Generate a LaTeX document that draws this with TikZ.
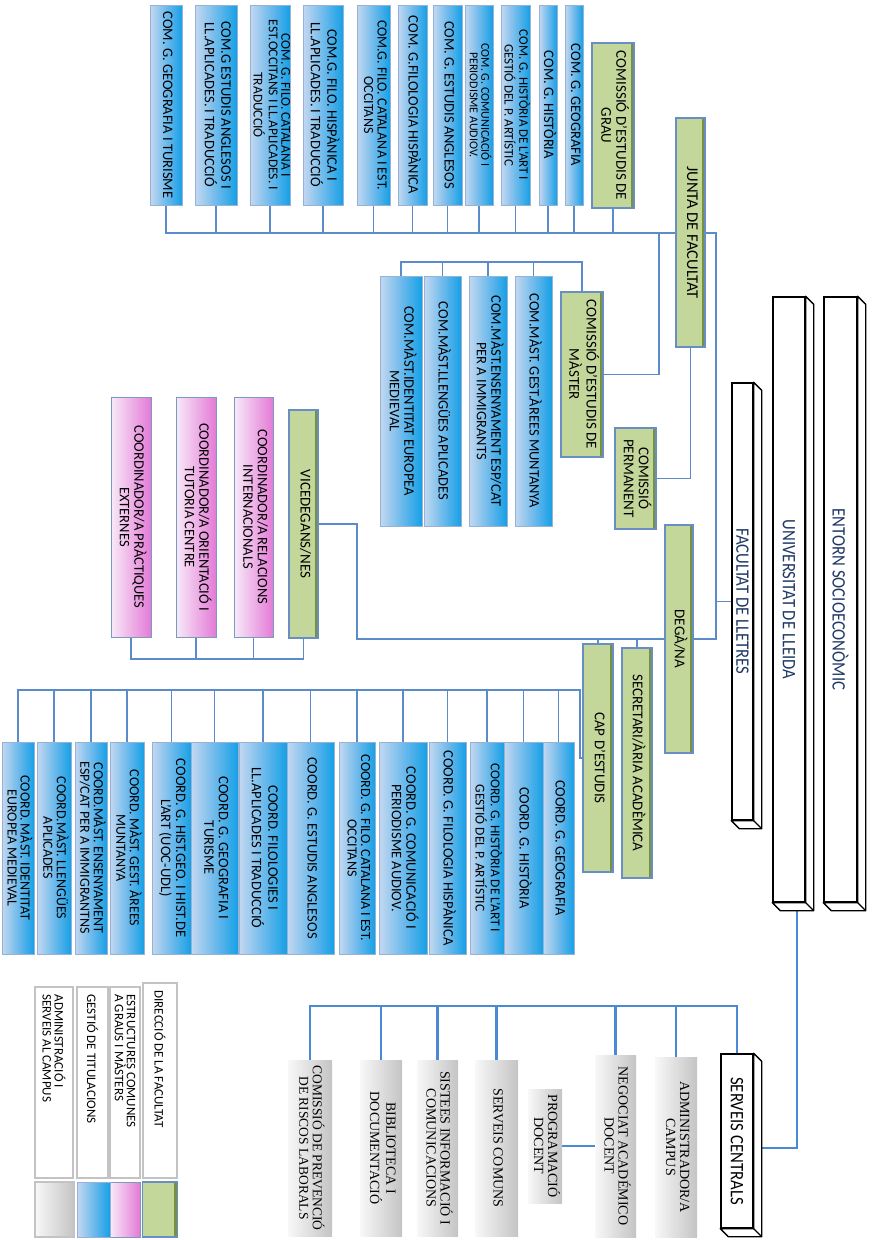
\documentclass[tikz,border=0pt]{standalone}
\usepackage{graphicx}
\usepackage{fontspec}
\setmainfont{Carlito}
\newfontfamily\serfont{Liberation Serif}
\newfontfamily\condfont[FakeStretch=0.88]{Carlito}
\usetikzlibrary{calc, backgrounds}
\definecolor{lnblue}{RGB}{91, 139, 201}
\definecolor{srvblue}{RGB}{74, 138, 212}
\definecolor{blueL}{RGB}{196, 216, 240}
\definecolor{blueM}{RGB}{110, 186, 236}
\definecolor{blueR}{RGB}{22, 160, 230}
\definecolor{bluedraw}{RGB}{150, 178, 214}
\definecolor{grnfill}{RGB}{196, 215, 155}
\definecolor{grnedge}{RGB}{118, 146, 60}
\definecolor{grndraw}{RGB}{104, 142, 196}
\definecolor{pinkL}{RGB}{248, 234, 248}
\definecolor{pinkR}{RGB}{228, 122, 214}
\definecolor{pinkdraw}{RGB}{120, 155, 196}
\definecolor{grayL}{RGB}{248, 248, 248}
\definecolor{grayR}{RGB}{196, 196, 196}
\definecolor{navytext}{RGB}{31, 56, 100}
\definecolor{legdraw}{RGB}{195, 195, 195}

\newcommand{\fsz}[1]{\fontsize{#1}{#1}\selectfont}
\newcommand{\fszb}[2]{\fontsize{#1}{#2}\selectfont}
\newcommand{\vlab}[1]{\rotatebox{-90}{\begin{tabular}{@{}c@{}}#1\end{tabular}}}
\newcommand{\vleft}[2]{\rotatebox{-90}{\parbox{#1}{\raggedright #2}}}

\begin{document}
\begin{tikzpicture}[
    x=1pt, y=-1pt,
    combox/.style={rectangle, draw=bluedraw, line width=0.8pt,
                   left color=blueL, right color=blueR, middle color=blueM,
                   inner sep=0pt, font=\fsz{14.5}},
    grnbox/.style={rectangle, draw=grndraw, line width=1.3pt, fill=grnfill,
                   path picture={\fill[grnedge] ([xshift=-3.5pt]path picture bounding box.north east)
                                 rectangle (path picture bounding box.south east);},
                   inner sep=0pt, font=\fsz{15}},
    pinkbox/.style={rectangle, draw=pinkdraw, line width=1pt,
                    left color=pinkL, right color=pinkR,
                    inner sep=0pt, font=\fsz{14.5}},
    graybox/.style={rectangle, left color=grayL, right color=grayR,
                    inner sep=0pt, font=\serfont\fsz{14}},
    solid3d/.style={rectangle, draw=black, line width=1.4pt, fill=white,
                    inner sep=0pt, text=navytext, font=\condfont\fsz{19}},
    edge3d/.style={draw=black, line width=1.4pt, fill=white, line join=round},
    legbox/.style={rectangle, draw=legdraw, line width=2.2pt, fill=white,
                   inner sep=0pt, font=\fszb{13}{12}},
    conn/.style={draw=lnblue, line width=1.8pt},
    conn2/.style={draw=srvblue, line width=2.8pt},
]
\useasboundingbox (0,0) rectangle (874,1240);

%% ── Context (3D blocks) ─────────────────────────────────────────────────────
\node[solid3d, minimum width=33, minimum height=605] (ent)  at (840.5,599.5) {\rotatebox{-90}{ENTORN SOCIOECONÒMIC}};
\node[solid3d, minimum width=32, minimum height=605] (uni)  at (789,599.5)   {\rotatebox{-90}{UNIVERSITAT DE LLEIDA}};
\node[solid3d, minimum width=21, minimum height=437] (fac)  at (742.5,601.5) {\rotatebox{-90}{FACULTAT DE LLETRES}};
\node[solid3d, minimum width=32, minimum height=174, text=black] (serv) at (737,1141) {\rotatebox{-90}{SERVEIS CENTRALS}};
\foreach \n in {ent,uni,fac,serv} {
  \draw[edge3d] (\n.north east) -- ++(8,8) -- ($(\n.south east)+(8,8)$) -- ($(\n.south west)+(8,8)$)
                -- (\n.south west) -- (\n.south east) -- cycle;
  \draw[edge3d] (\n.south east) -- ++(8,8);
}

%% ── Junta de Facultat and grau commissions ─────────────────────────────────
\node[grnbox, minimum width=29, minimum height=229, font=\fsz{16.5}] (junta) at (690.5,232.5) {\vlab{JUNTA DE FACULTAT}};
\node[grnbox, minimum width=42, minimum height=165] (cgrau) at (613,125.5) {\vlab{COMISSIÓ D'ESTUDIS DE\\GRAU}};
\node[combox, minimum width=18, minimum height=200] (g11) at (574,105)   {\vlab{COM. G. GEOGRAFIA}};
\node[combox, minimum width=18, minimum height=200] (g10) at (548,105)   {\vlab{COM. G. HISTÒRIA}};
\node[combox, minimum width=29, minimum height=200, font=\fszb{13}{12.5}] (g9) at (515.5,105) {\vlab{COM. G. HISTÒRIA DE L'ART I\\GESTIÓ DEL P. ARTÍSTIC}};
\node[combox, minimum width=28, minimum height=200, font=\fszb{12}{11.5}] (g8) at (479,105) {\vlab{COM. G. COMUNICACIÓ I\\PERIODISME AUDIOV.}};
\node[combox, minimum width=29, minimum height=200] (g7)  at (447.5,105) {\vlab{COM. G. ESTUDIS ANGLESOS}};
\node[combox, minimum width=29, minimum height=200] (g6)  at (412.5,105) {\vlab{COM. G.FILOLOGIA HISPÀNICA}};
\node[combox, minimum width=33, minimum height=200, font=\fszb{14}{13.5}] (g5) at (373.5,105) {\vlab{COM.G. FILO. CATALANA I EST.\\OCCITANS}};
\node[combox, minimum width=40, minimum height=200] (g4)  at (323,105)   {\vlab{COM.G. FILO. HISPÀNICA I\\LL.APLICADES. I TRADUCCIÓ}};
\node[combox, minimum width=40, minimum height=200, font=\fszb{13.5}{12.5}] (g3) at (270,105) {\vlab{COM. G. FILO. CATALANA I\\EST.OCCITANS I LL.APLICADES. I\\TRADUCCIÓ}};
\node[combox, minimum width=42, minimum height=200] (g2)  at (216,105)   {\vlab{COM.G ESTUDIS ANGLESOS I\\LL.APLICADES. I TRADUCCIÓ}};
\node[combox, minimum width=32, minimum height=200] (g1)  at (166,105)   {\vlab{COM. G. GEOGRAFIA I TURISME}};

%% ── Màster commissions ──────────────────────────────────────────────────────
\node[grnbox, minimum width=42, minimum height=165] (cmast) at (582,374.5) {\vlab{COMISSIÓ D'ESTUDIS DE\\MÀSTER}};
\node[grnbox, minimum width=41, minimum height=101] (cperm) at (635.5,478.5) {\vlab{COMISSIÓ\\PERMANENT}};
\node[combox, minimum width=37, minimum height=250] (m4) at (533.5,401) {\vlab{COM.MÀST. GEST.ÀREES MUNTANYA}};
\node[combox, minimum width=38, minimum height=250] (m3) at (488,401)   {\vlab{COM.MÀST.ENSENYAMENT ESP/CAT\\PER A IMMIGRANTS}};
\node[combox, minimum width=37, minimum height=250] (m2) at (442.5,401) {\vlab{COM.MÀST.LLENGÜES APLICADES}};
\node[combox, minimum width=42, minimum height=250] (m1) at (401,401)   {\vlab{COM.MÀST.IDENTITAT EUROPEA\\MEDIEVAL}};

%% ── Deganat ─────────────────────────────────────────────────────────────────
\node[grnbox, minimum width=28, minimum height=228] (dega) at (679,639)   {\vlab{DEGÀ/NA}};
\node[grnbox, minimum width=30, minimum height=230] (sec)  at (637,763)   {\vlab{SECRETARI/ÀRIA ACADÈMICA}};
\node[grnbox, minimum width=30, minimum height=228] (cap)  at (598,758)   {\vlab{CAP D'ESTUDIS}};
\node[grnbox, minimum width=29, minimum height=228] (vice) at (303.5,524) {\vlab{VICEDEGANS/NES}};
\node[pinkbox, minimum width=39, minimum height=240] (ri) at (253.5,517) {\vlab{COORDINADOR/A RELACIONS\\INTERNACIONALS}};
\node[pinkbox, minimum width=40, minimum height=240] (ot) at (196,517)   {\vlab{COORDINADOR/A ORIENTACIÓ I\\TUTORIA CENTRE}};
\node[pinkbox, minimum width=40, minimum height=240] (pe) at (131,517)   {\vlab{COORDINADOR/A PRÀCTIQUES\\EXTERNES}};

%% ── Coordinators ────────────────────────────────────────────────────────────
\node[combox, minimum width=31, minimum height=212] (c14) at (558.5,848) {\vlab{COORD. G. GEOGRAFIA}};
\node[combox, minimum width=39, minimum height=212] (c13) at (523.5,848) {\vlab{COORD. G. HISTÒRIA}};
\node[combox, minimum width=34, minimum height=212, font=\fszb{13.5}{13}] (c12) at (487,848) {\vlab{COORD. G. HISTÒRIA DE L'ART I\\GESTIÓ DEL P. ARTÍSTIC}};
\node[combox, minimum width=37, minimum height=212] (c11) at (447.5,848) {\vlab{COORD. G. FILOLOGIA HISPÀNICA}};
\node[combox, minimum width=48, minimum height=212] (c10) at (403,848)   {\vlab{COORD. G. COMUNICACIÓ I\\PERIODISME AUDIOV.}};
\node[combox, minimum width=36, minimum height=212, font=\fszb{14}{13.5}] (c9) at (357,848) {\vlab{COORD. G. FILO. CATALANA I EST.\\OCCITANS}};
\node[combox, minimum width=47, minimum height=212] (c8)  at (310.5,848) {\vlab{COORD. G. ESTUDIS ANGLESOS}};
\node[combox, minimum width=48, minimum height=212] (c7)  at (263,848)   {\vlab{COORD. FILOLOGIES I\\LL.APLICADES I TRADUCCIÓ}};
\node[combox, minimum width=47, minimum height=212] (c6)  at (214.5,848) {\vlab{COORD. G. GEOGRAFIA I\\TURISME}};
\node[combox, minimum width=39, minimum height=212] (c5)  at (171.5,848) {\vlab{COORD. G. HIST.GEO. I HIST.DE\\L'ART (UOC-UDL)}};
\node[combox, minimum width=34, minimum height=212, font=\fszb{14}{13.5}] (c4) at (127,848) {\vlab{COORD. MÀST. GEST. ÀREES\\MUNTANYA}};
\node[combox, minimum width=32, minimum height=212, font=\fszb{14}{13}] (c3) at (91,848) {\vlab{COORD.MÀST. ENSENYAMENT\\ESP/CAT PER A IMMIGRANTNS}};
\node[combox, minimum width=34, minimum height=212, font=\fszb{14}{13.5}] (c2) at (54,848) {\vlab{COORD.MÀST. LLENGÜES\\APLICADES}};
\node[combox, minimum width=32, minimum height=212, font=\fszb{14}{13}] (c1) at (18,848) {\vlab{COORD. MÀST. IDENTITAT\\EUROPEA MEDIEVAL}};

%% ── Serveis centrals ────────────────────────────────────────────────────────
\node[graybox, minimum width=42, minimum height=180] (adm)  at (676,1147)   {\vlab{ADMINISTRADOR/A\\CAMPUS}};
\node[graybox, minimum width=41, minimum height=182] (neg)  at (615.5,1146) {\vlab{NEGOCIAT ACADÉMICO\\DOCENT}};
\node[graybox, minimum width=34, minimum height=114] (prog) at (545,1146)   {\vlab{PROGRAMACIÓ\\DOCENT}};
\node[graybox, minimum width=43, minimum height=176] (scom) at (496.5,1148) {\vlab{SERVEIS COMUNS}};
\node[graybox, minimum width=41, minimum height=176] (sist) at (437.5,1148) {\vlab{SISTEES INFORMACIÓ I\\COMUNICACIONS}};
\node[graybox, minimum width=42, minimum height=176] (bib)  at (381,1148)   {\vlab{BIBLIOTECA I\\DOCUMENTACIÓ}};
\node[graybox, minimum width=44, minimum height=176, font=\serfont\fsz{13.5}] (prev) at (310,1148) {\vlab{COMISSIÓ DE PREVENCIÓ\\DE RISCOS LABORALS}};

%% ── Legend ──────────────────────────────────────────────────────────────────
\node[legbox, minimum width=34, minimum height=195] (leg1) at (160,1080.5) {\vleft{180pt}{DIRECCIÓ DE LA FACULTAT}};
\node[legbox, minimum width=30, minimum height=191] (leg2) at (125,1082.5) {\vleft{176pt}{ESTRUCTURES COMUNES\\A GRAUS I MÀSTERS}};
\node[legbox, minimum width=31, minimum height=191] (leg3) at (92.5,1082.5) {\vleft{176pt}{GESTIÓ DE TITULACIONS}};
\node[legbox, minimum width=38, minimum height=191] (leg4) at (54,1082.5) {\vleft{176pt}{ADMINISTRACIÓ I\\SERVEIS AL CAMPUS}};
\node[grnbox,  minimum width=35, minimum height=55] (sw1) at (160,1209.5)  {};
\node[pinkbox, minimum width=30, minimum height=55] (sw2) at (125,1209.5)  {};
\node[combox,  minimum width=33, minimum height=55] (sw3) at (93.5,1209.5) {};
\node[graybox, draw=legdraw, line width=1.5pt, minimum width=39, minimum height=55] (sw4) at (54.5,1209.5) {};

%% ── Connectors ──────────────────────────────────────────────────────────────
\coordinate (jbus) at (716,233);
\coordinate (mbus) at (659,233);
\coordinate (mrow) at (582,262);
\coordinate (dbus) at (357,639);
\coordinate (vbus) at (0,659);
\coordinate (cbus) at (580,690);
\coordinate (sbus) at (737,1006);

\begin{scope}[on background layer]
% junta bus, down to degà
\draw[conn] (g1.south) |- (jbus) |- (dega.east);
\foreach \n in {g2,g3,g4,g5,g6,g7,g8,g9,g10,g11,cgrau}
  \draw[conn] (\n.south) -- (\n.south |- jbus);
\draw[conn] (fac.west) -- (fac.west -| jbus);
\draw[conn] (junta.south) |- (cperm.east);

% master branch
\draw[conn] (mbus) |- (cmast.east);
\draw[conn] (cmast.north) -- (cmast.north |- mrow) -| (m1.north);
\foreach \n in {m2,m3,m4}
  \draw[conn] (\n.north) -- (\n.north |- mrow);

% degà branch
\draw[conn] (vice.east) -| (dbus) -- (dega.west);
\foreach \n in {cap,sec}
  \draw[conn] (\n.north) -- (\n.north |- dbus);
\draw[conn] (pe.south) |- (vbus -| vice.south) -- (vice.south);
\foreach \n in {ot,ri}
  \draw[conn] (\n.south) -- (\n.south |- vbus);

% cap d'estudis branch
\draw[conn] (cap.west) -| (cbus) -| (c1.north);
\foreach \n in {c2,c3,c4,c5,c6,c7,c8,c9,c10,c11,c12,c13,c14}
  \draw[conn] (\n.north) -- (\n.north |- cbus);

% serveis centrals
\draw[conn2] ($(uni.south)+(8,8)$) |- ($(serv.east)+(8,7)$);
\draw[conn2] (prev.north) |- (sbus) -- (serv.north);
\foreach \n in {bib,sist,scom,neg,adm}
  \draw[conn2] (\n.north) -- (\n.north |- sbus);
\draw[conn2] (prog.east) -- (neg.west);
\end{scope}

\end{tikzpicture}
\end{document}
